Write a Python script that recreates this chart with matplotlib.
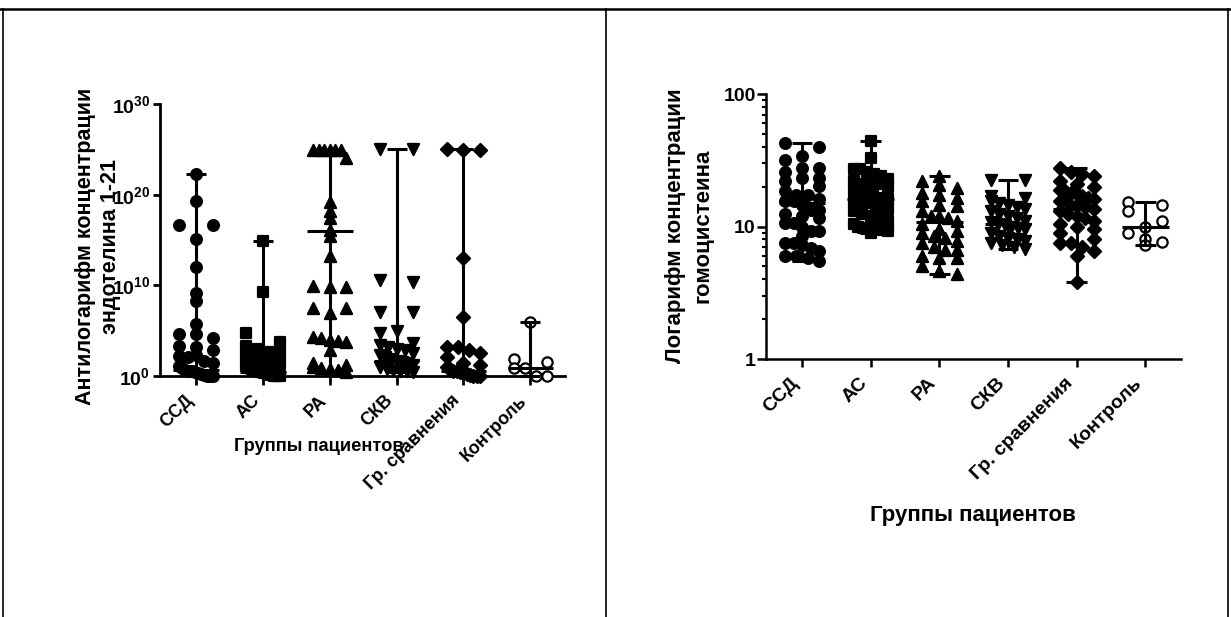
import numpy as np
import matplotlib
matplotlib.use("Agg")
import matplotlib.pyplot as plt
import matplotlib.ticker as tkr
from matplotlib.lines import Line2D

plt.rcParams['font.family'] = ['Liberation Sans', 'DejaVu Sans']
plt.rcParams['font.weight'] = 'bold'
plt.rcParams['mathtext.fontset'] = 'custom'
plt.rcParams['mathtext.bf'] = 'Liberation Sans:bold'
plt.rcParams['mathtext.rm'] = 'Liberation Sans:bold'

groups = ['ССД', 'АС', 'РА', 'СКВ', 'Гр. сравнения', 'Контроль']

# endothelin 1-21, stored as log10 values (axis shows 10^x)
et_ssd = [22.3, 19.3, 16.7, 16.7, 15.1, 12.0, 9.2, 8.3, 5.7, 4.6, 4.6, 4.2, 3.3, 3.2, 2.9,
          2.2, 2.1, 2.3, 1.6, 1.4, 1.1, 0.9, 0.7, 0.6, 0.5, 0.4, 0.3, 0.2, 0.1, 0.0, 0.0, 0.0]
et_as = [14.9, 9.3, 4.7, 3.8, 3.3, 3.0, 2.7, 2.5, 2.2, 2.0, 1.8, 1.6, 1.5, 1.3, 1.1, 0.9,
         0.8, 0.6, 0.5, 0.4, 0.3, 0.2, 0.1, 0.0, 0.0, 0.0]
et_ra = [24.9, 24.9, 24.9, 24.9, 24.9, 24.9, 24.0, 19.2, 18.2, 17.4, 16.1, 15.4, 13.2, 9.9,
         9.85, 9.8, 7.5, 7.5, 6.9, 4.3, 4.2, 4.0, 3.9, 3.8, 2.9, 1.4, 1.2, 1.0, 0.9, 0.8, 0.7, 0.4]
et_skv = [25.0, 25.0, 10.6, 10.4, 7.1, 7.1, 5.0, 4.7, 3.6, 3.4, 3.2, 3.0, 2.9, 2.5, 2.3,
          2.1, 1.9, 1.7, 1.5, 1.4, 1.2, 1.0, 0.8, 0.7, 0.6, 0.5, 0.4]
et_cmp = [25.0, 24.9, 24.9, 13.0, 6.5, 3.2, 3.2, 2.9, 2.5, 2.1, 1.4, 1.2, 1.0, 0.8, 0.6,
          0.5, 0.4, 0.3, 0.2, 0.1, 0.0, 0.0, 0.0]
et_ctrl = [6.0, 1.9, 1.5, 0.9, 0.9, 0.0, 0.0]
et_medians = [0.66, 0.4, 16.0, 1.7, 0.5, 0.9]

# homocysteine
hcy_ssd = [43, 40, 33.8, 31.9, 27.6, 27.6, 26, 23.2, 23.2, 22, 20.1, 18.5, 17.4, 17.4, 16,
           15.5, 15.5, 14.5, 13.4, 13.4, 12.5, 12.0, 11.5, 10.7, 10.7, 10, 9.2, 9.2, 8.5,
           7.5, 7.5, 7.2, 6.9, 6.5, 6.0, 6.0, 5.8, 5.5]
hcy_as = [44, 33, 27, 27, 26, 25, 24, 23, 22, 21, 21, 20, 19, 18.5, 18, 17.5, 17, 16.5, 16,
          16, 15.5, 15, 15, 14, 13.5, 13, 12.5, 12, 11.5, 11, 10.5, 10, 9.8, 9.7, 9.6, 9.5,
          9.4, 9.2, 9.0]
hcy_ra = [23.9, 21.9, 20.5, 19.5, 18, 17.4, 16.5, 15.5, 14.6, 14.2, 13, 12.0, 12.0, 11.5,
          11.0, 10.5, 9.5, 9.2, 8.9, 8.5, 8.2, 7.8, 7.5, 7.0, 6.7, 6.7, 6.0, 5.8, 5.8, 5.0,
          4.6, 4.4]
hcy_skv = [22.5, 22.5, 17, 16.5, 15.5, 15, 14.5, 14, 13.5, 13, 12.5, 12, 11.5, 11, 10.8,
           10.5, 10.2, 10, 9.8, 9.5, 9.0, 8.5, 8.2, 8.0, 7.8, 7.5, 7.2, 7.0, 6.8]
hcy_cmp = [27.5, 26, 25, 24, 22, 21, 20, 19, 18.5, 18, 17.5, 17, 16.5, 16, 15.5, 15, 14.5,
           14, 13.5, 13, 12.5, 12, 11.5, 11, 10.5, 10, 9.5, 8.9, 8.0, 7.5, 7.5, 7.0, 6.5,
           6.0, 3.8]
hcy_ctrl = [15.2, 14.5, 13.0, 11.0, 10.0, 9.0, 8.0, 7.6, 7.3]
hcy_medians = [15.0, 16.0, 10.8, 10.5, 13.5, 10.0]

markers = ['o', 's', '^', 'v', 'D', 'o']
msizes = [60, 46, 64, 64, 44, 55]
faces = ['black', 'black', 'black', 'black', 'black', 'white']


def spread(logvals, binw, w=0.25):
    # put points that share a row side by side, like a scatter dot plot
    logvals = np.asarray(logvals, dtype=float)
    keys = np.floor(logvals / binw)
    offs = np.zeros(len(logvals))
    for k in np.unique(keys):
        idx = np.where(keys == k)[0]
        if len(idx) > 1:
            offs[idx] = np.linspace(-w, w, len(idx))
    return offs


def draw(ax, data, medians, logvals_fn, binw):
    for i, vals in enumerate(data):
        vals = np.asarray(vals, dtype=float)
        xs = i + spread(logvals_fn(vals), binw)
        ax.scatter(xs, vals, marker=markers[i], s=msizes[i], facecolor=faces[i],
                   edgecolor='black', linewidth=1.6, zorder=3, clip_on=False)
        lo, hi = vals.min(), vals.max()
        ax.vlines(i, lo, hi, color='black', lw=2.2, zorder=4, clip_on=False)
        ax.hlines([lo, hi], i - 0.15, i + 0.15, color='black', lw=2.2, zorder=4, clip_on=False)
        ax.hlines(medians[i], i - 0.34, i + 0.34, color='black', lw=2.2, zorder=4, clip_on=False)


def style(ax, lw):
    for s in ['top', 'right']:
        ax.spines[s].set_visible(False)
    for s in ['left', 'bottom']:
        ax.spines[s].set_linewidth(lw)
    ax.set_xticks(range(len(groups)))
    ax.set_xticklabels(groups)


fig = plt.figure(figsize=(12.31, 6.17), dpi=100)

# left panel
ax1 = fig.add_axes([0.130, 0.3906, 0.329, 0.4408])
draw(ax1, [et_ssd, et_as, et_ra, et_skv, et_cmp, et_ctrl], et_medians, lambda v: v, 1.2)
style(ax1, 2.0)
ax1.set_xlim(-0.54, 5.52)
ax1.set_ylim(0, 30)
ax1.set_yticks([0, 10, 20, 30])
ax1.yaxis.set_major_formatter(tkr.FuncFormatter(lambda v, p: r'$\mathbf{10^{%d}}$' % v))
ax1.tick_params(axis='y', length=5, width=2, pad=2, labelsize=14)
ax1.tick_params(axis='x', length=6.5, width=2, pad=5, labelsize=13)
plt.setp(ax1.get_xticklabels(), rotation=45, ha='right', fontweight='bold')
fig.text(0.080, 0.601, 'Антилогарифм концентрации\nэндотелина 1-21', rotation=90,
         ha='center', va='center', fontsize=15.5, fontweight='bold', linespacing=1.25)
fig.text(0.259, 0.277, 'Группы пациентов', ha='center', va='center',
         fontsize=13.2, fontweight='bold')

# right panel
ax2 = fig.add_axes([0.6223, 0.4181, 0.3371, 0.4295])
draw(ax2, [hcy_ssd, hcy_as, hcy_ra, hcy_skv, hcy_cmp, hcy_ctrl], hcy_medians, np.log10, 0.08)
style(ax2, 1.8)
ax2.set_yscale('log')
ax2.set_xlim(-0.525, 5.52)
ax2.set_ylim(1, 100)
ax2.yaxis.set_major_locator(tkr.FixedLocator([1, 10, 100]))
ax2.yaxis.set_major_formatter(tkr.FuncFormatter(lambda v, p: '%g' % v))
ax2.yaxis.set_minor_locator(tkr.LogLocator(base=10, subs=np.arange(2, 10)))
ax2.yaxis.set_minor_formatter(tkr.NullFormatter())
ax2.tick_params(axis='y', which='major', length=6.5, width=1.8, pad=1, labelsize=14)
ax2.tick_params(axis='y', which='minor', length=3, width=1.5)
ax2.tick_params(axis='x', length=6, width=1.8, pad=5, labelsize=14)
plt.setp(ax2.get_xticklabels(), rotation=45, ha='right', fontweight='bold')
plt.setp(ax2.get_yticklabels(), fontweight='bold')
fig.text(0.560, 0.634, 'Логарифм концентрации\nгомоцистеина', rotation=90,
         ha='center', va='center', fontsize=16, fontweight='bold', linespacing=1.4)
fig.text(0.790, 0.165, 'Группы пациентов', ha='center', va='center',
         fontsize=16, fontweight='bold')

# table frame around the two panels
fig.add_artist(Line2D([0, 1], [0.9854, 0.9854], color='black', lw=1.8))
for xf in [0.0024, 0.4923, 0.9976]:
    fig.add_artist(Line2D([xf, xf], [0, 0.9854], color='black', lw=1.2))

fig.savefig('out.png', dpi=100)
